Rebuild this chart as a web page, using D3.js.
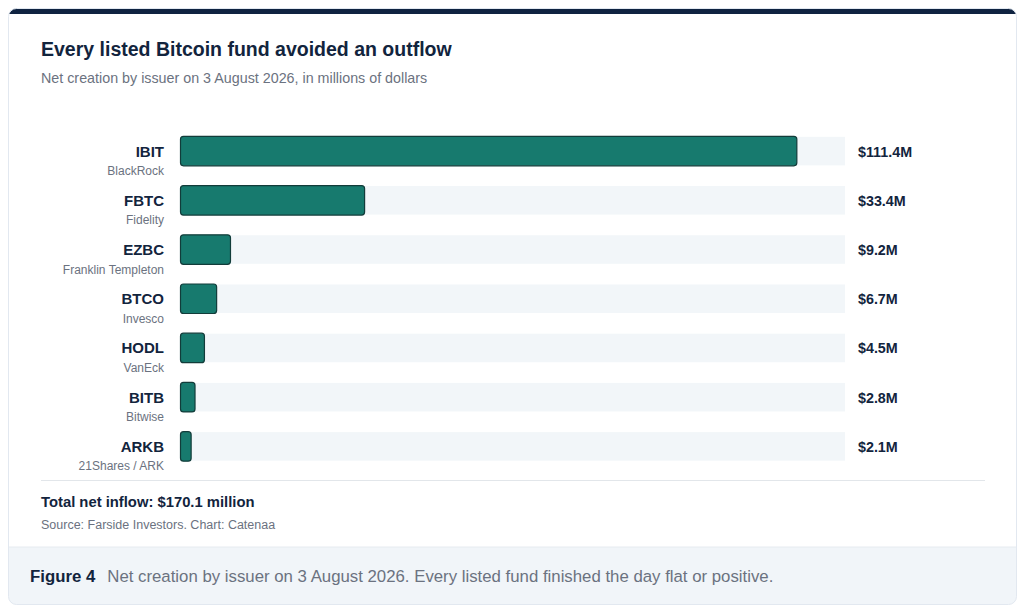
<!DOCTYPE html>
<html><head><meta charset="utf-8">
<script src="https://cdn.jsdelivr.net/npm/d3@7"></script>
<style>
html,body{margin:0;padding:0;background:#fff;}
svg{display:block;font-family:"Liberation Sans",Arial,Helvetica,sans-serif;}
</style></head>
<body>
<svg id="c" width="1024" height="609"></svg>
<script>
const tickers = ["IBIT","FBTC","EZBC","BTCO","HODL","BITB","ARKB"];
const issuers = ["BlackRock","Fidelity","Franklin Templeton","Invesco","VanEck","Bitwise","21Shares / ARK"];
const values = [111.4,33.4,9.2,6.7,4.5,2.8,2.1];
const valueLabels = ["$111.4M","$33.4M","$9.2M","$6.7M","$4.5M","$2.8M","$2.1M"];
const domainMax = 120;

const svg = d3.select("#c");
const clip = svg.append("defs").append("clipPath").attr("id","card");
clip.append("rect").attr("x",8.5).attr("y",8.5).attr("width",1008).attr("height",596).attr("rx",8);
svg.append("rect").attr("x",8.5).attr("y",8.5).attr("width",1008).attr("height",596).attr("rx",8)
  .attr("fill","#fff");
const g0 = svg.append("g").attr("clip-path","url(#card)");
g0.append("rect").attr("x",8).attr("y",8).attr("width",1010).attr("height",6).attr("fill","#0f2341");
g0.append("rect").attr("x",8).attr("y",547).attr("width",1010).attr("height",60).attr("fill","#f1f5f9");
g0.append("line").attr("x1",8).attr("x2",1018).attr("y1",547).attr("y2",547).attr("stroke","#e6ebf0");
svg.append("rect").attr("x",8.5).attr("y",8.5).attr("width",1008).attr("height",596).attr("rx",8)
  .attr("fill","none").attr("stroke","#e2e8f0");

svg.append("text").attr("x",41).attr("y",56).attr("font-size",19.5).attr("font-weight","bold")
  .attr("fill","#12243d").text("Every listed Bitcoin fund avoided an outflow");
svg.append("text").attr("x",41).attr("y",83).attr("font-size",14.3).attr("fill","#6b7280")
  .text("Net creation by issuer on 3 August 2026, in millions of dollars");

const x = d3.scaleLinear().domain([0,domainMax]).range([180,845]);
const y = d3.scaleBand().domain(tickers).range([126.5,471]).paddingInner(0.38).paddingOuter(0.19);

const rows = svg.append("g").selectAll("g").data(tickers).join("g");
rows.append("rect").attr("x",x(0)).attr("y",d=>y(d)+1).attr("width",x(domainMax)-x(0))
  .attr("height",y.bandwidth()-2).attr("fill","#f2f6f9");
rows.append("rect").attr("x",x(0)+0.5).attr("y",d=>y(d)+0.5)
  .attr("width",(d,i)=>x(values[i])-x(0)-1).attr("height",y.bandwidth()-1)
  .attr("rx",3).attr("fill","#177a6e").attr("stroke","#123c3a").attr("stroke-width",1.2);
rows.append("text").attr("x",164).attr("y",d=>y(d)+y.bandwidth()/2+5.5).attr("text-anchor","end")
  .attr("font-size",15).attr("font-weight","bold").attr("fill","#12243d").text(d=>d);
rows.append("text").attr("x",164).attr("y",d=>y(d)+y.bandwidth()/2+24).attr("text-anchor","end")
  .attr("font-size",12).attr("fill","#6b7280").text((d,i)=>issuers[i]);
rows.append("text").attr("x",858).attr("y",d=>y(d)+y.bandwidth()/2+5.5)
  .attr("font-size",14.3).attr("font-weight","bold").attr("fill","#12243d").text((d,i)=>valueLabels[i]);

svg.append("line").attr("x1",41).attr("x2",985).attr("y1",480.5).attr("y2",480.5).attr("stroke","#e2e6ea");
svg.append("text").attr("x",41).attr("y",507).attr("font-size",14.8).attr("font-weight","bold")
  .attr("fill","#12243d").text("Total net inflow: $170.1 million");
svg.append("text").attr("x",41).attr("y",529).attr("font-size",12.5).attr("fill","#6b7280")
  .text("Source: Farside Investors. Chart: Catenaa");

const cap = svg.append("text").attr("x",30).attr("y",582).attr("font-size",16.8);
cap.append("tspan").attr("font-weight","bold").attr("fill","#12243d").text("Figure 4");
cap.append("tspan").attr("dx",12).attr("fill","#6b7280")
  .text("Net creation by issuer on 3 August 2026. Every listed fund finished the day flat or positive.");
</script>
</body></html>
